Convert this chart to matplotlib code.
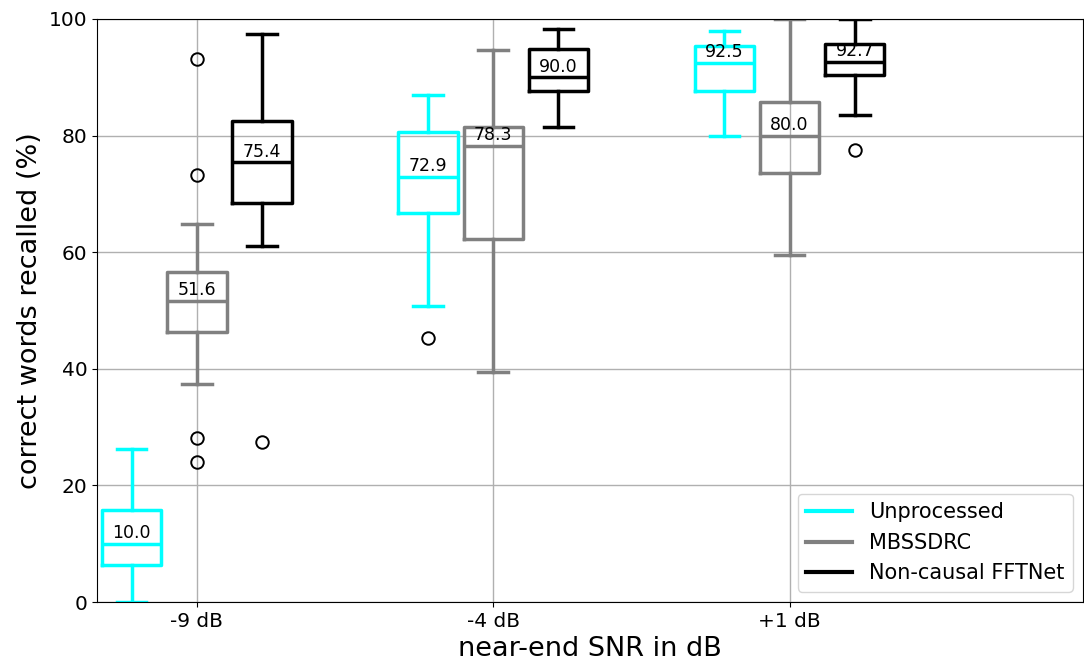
import matplotlib
matplotlib.use("Agg")
import matplotlib.pyplot as plt
from matplotlib.lines import Line2D

# SNR conditions on the x axis
conditions = ["-9 dB", "-4 dB", "+1 dB"]
methods = ["Unprocessed", "MBSSDRC", "Non-causal FFTNet"]
colors = ["cyan", "gray", "black"]

# Box statistics per method, one entry per SNR condition
unproc_med = [10.0, 72.9, 92.5]
unproc_q1 = [6.4, 66.8, 87.6]
unproc_q3 = [15.8, 80.7, 95.4]
unproc_lo = [0.0, 50.7, 79.9]
unproc_hi = [26.3, 86.9, 98.0]
unproc_fliers = [[], [45.3], []]

mbss_med = [51.6, 78.3, 80.0]
mbss_q1 = [46.3, 62.3, 73.6]
mbss_q3 = [56.6, 81.5, 85.7]
mbss_lo = [37.4, 39.4, 59.6]
mbss_hi = [64.8, 94.6, 100.0]
mbss_fliers = [[93.2, 73.3, 28.1, 24.0], [], []]

fft_med = [75.4, 90.0, 92.7]
fft_q1 = [68.4, 87.6, 90.4]
fft_q3 = [82.5, 94.9, 95.7]
fft_lo = [61.0, 81.5, 83.5]
fft_hi = [97.5, 98.2, 100.0]
fft_fliers = [[27.4], [], [77.5]]

series = [
    (unproc_med, unproc_q1, unproc_q3, unproc_lo, unproc_hi, unproc_fliers),
    (mbss_med, mbss_q1, mbss_q3, mbss_lo, mbss_hi, mbss_fliers),
    (fft_med, fft_q1, fft_q3, fft_lo, fft_hi, fft_fliers),
]

fig = plt.figure(figsize=(10.84, 6.69), dpi=100)
ax = fig.add_axes([97 / 1084, 1 - 602 / 669, (1083 - 97) / 1084, (602 - 19) / 669])

base = [1, 2, 3]
offsets = [-0.22, 0.0, 0.22]
box_w = 0.2
lw = 2.5

for (med, q1, q3, lo, hi, fl), col, off in zip(series, colors, offsets):
    stats = []
    for i in range(len(conditions)):
        stats.append(dict(med=med[i], q1=q1[i], q3=q3[i],
                          whislo=lo[i], whishi=hi[i], fliers=fl[i]))
    pos = [b + off for b in base]
    ax.bxp(stats, positions=pos, widths=box_w, showfliers=True,
           boxprops=dict(color=col, linewidth=lw),
           medianprops=dict(color=col, linewidth=lw),
           whiskerprops=dict(color=col, linewidth=lw),
           capprops=dict(color=col, linewidth=lw),
           flierprops=dict(marker="o", markerfacecolor="none",
                           markeredgecolor="black", markersize=9,
                           markeredgewidth=1.4),
           manage_ticks=False)
    for p, m in zip(pos, med):
        ax.text(p, m + 0.3, f"{m:.1f}", ha="center", va="bottom",
                fontsize=12.5, color="black", zorder=5)

ax.set_xlim(0.663, 3.99)
ax.set_ylim(0, 100)
ax.set_xticks(base)
ax.set_xticklabels(conditions)
ax.set_yticks([0, 20, 40, 60, 80, 100])
ax.tick_params(labelsize=14.5)
ax.grid(True, color="#b0b0b0", linewidth=1.0)
ax.set_axisbelow(True)
ax.set_xlabel("near-end SNR in dB", fontsize=19.5)
ax.set_ylabel("correct words recalled (%)", fontsize=19.5)

handles = [Line2D([0], [0], color=c, linewidth=3) for c in colors]
ax.legend(handles, methods, loc="lower right", fontsize=15, handlelength=2.2,
          borderaxespad=0.5)

fig.savefig("out.png", dpi=100)
